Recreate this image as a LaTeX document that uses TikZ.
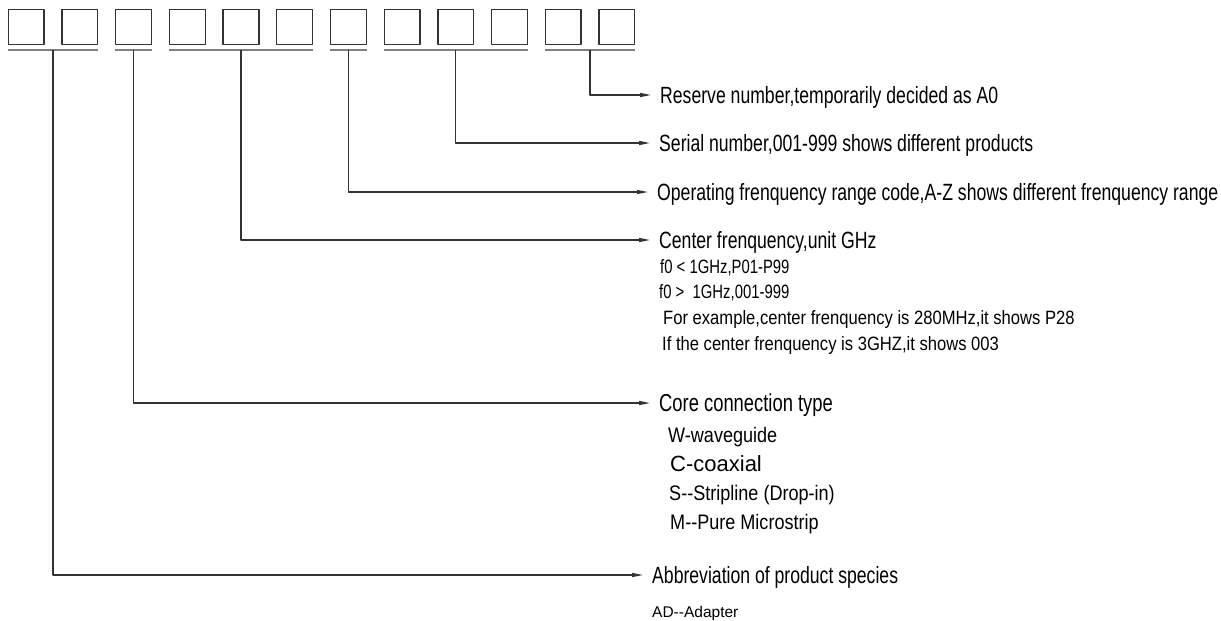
\documentclass[tikz,border=0pt]{standalone}
\usepackage{fontspec}
\setmainfont{Liberation Sans}
\newfontfamily\narrowfont[FakeStretch=0.75]{Liberation Sans}
\newfontfamily\subfont[FakeStretch=0.86]{Liberation Sans}
\newfontfamily\tightfont[FakeStretch=0.77]{Liberation Sans}
\usetikzlibrary{arrows.meta}
\tikzset{
	cell/.style={draw=black!80, line width=1.3pt, minimum width=35.8pt, minimum height=35pt, inner sep=0pt, anchor=north west},
	bar/.style={draw=black!50, line width=2pt},
	lead/.style={draw=black!80, line width=1.1pt, ->, shorten >=9pt},
	mainlbl/.style={anchor=west, inner sep=0pt, text height=16.8pt, text depth=0pt, font=\narrowfont\fontsize{23.5}{28}\selectfont},
	sublbl/.style={anchor=west, inner sep=0pt, text height=13.5pt, text depth=0pt, font=\subfont\fontsize{19.3}{22}\selectfont},
	flbl/.style={sublbl, font=\tightfont\fontsize{19.3}{22}\selectfont},
	corelbl/.style={anchor=west, inner sep=0pt, text height=15pt, text depth=0pt, font=\subfont\fontsize{21}{24}\selectfont}
}
\begin{document}
		\begin{tikzpicture}[x=1pt,y=-1pt,>={Triangle[length=11pt,width=4pt]}, line join=round]
			\def\px{53.7} \def\tx{660} % buoc o, le chu
			\useasboundingbox (0,0) rectangle (1221,621);
			\foreach \i in {1,...,12} \node[cell] (b\i) at ({7.6+\px*(\i-1)},8.6) {};
			\draw[bar] ([yshift=-5pt]b1.south west) -- coordinate[midway] (g1) ([yshift=-5pt]b2.south east);
			\draw[bar] ([yshift=-5pt]b3.south west) -- coordinate[midway] (g2) ([yshift=-5pt]b3.south east);
			\draw[bar] ([yshift=-5pt]b4.south west) -- coordinate[midway] (g3) ([yshift=-5pt]b6.south east);
			\draw[bar] ([yshift=-5pt]b7.south west) -- coordinate[midway] (g4) ([yshift=-5pt]b7.south east);
			\draw[bar] ([yshift=-5pt]b8.south west) -- coordinate[midway] (g5) ([yshift=-5pt]b10.south east);
			\draw[bar] ([yshift=-5pt]b11.south west) -- coordinate[midway] (g6) ([yshift=-5pt]b12.south east);
			\node[mainlbl] (reserve) at (\tx,95) {Reserve number,temporarily decided as A0};
			\node[mainlbl] (serial) at (\tx-1,143) {Serial number,001-999 shows different products};
			\node[mainlbl] (range) at (\tx-3,192) {Operating frenquency range code,A-Z shows different frenquency range};
			\node[mainlbl] (center) at (\tx-1,240) {Center frenquency,unit GHz};
			\node[flbl] (flow) at (\tx,267) {f0 < 1GHz,P01-P99};
			\node[flbl] (fhigh) at (\tx-1,292) {f0 >\ \ 1GHz,001-999};
			\node[sublbl] (fexa) at (\tx+3,318) {For example,center frenquency is 280MHz,it shows P28};
			\node[sublbl] (fif) at (\tx+2,344) {If the center frenquency is 3GHZ,it shows 003};
			\node[mainlbl, text height=17.5pt, font=\narrowfont\fontsize{24.5}{28}\selectfont] (core) at (\tx-1,403) {Core connection type};
			\node[corelbl] (wg) at (\tx+8,435) {W-waveguide};
			\node[corelbl, font=\fontsize{22}{26}\selectfont] (coax) at (\tx+10,464) {C-coaxial};
			\node[corelbl] (strip) at (\tx+9,493) {S-\kern0pt-Stripline (Drop-in)};
			\node[corelbl] (micro) at (\tx+10,522) {M-\kern0pt-Pure Microstrip};
			\node[mainlbl] (species) at (\tx-8,575) {Abbreviation of product species};
			\node[anchor=west, inner sep=0pt, text height=11pt, text depth=0pt, font=\fontsize{15.5}{18}\selectfont] (adapt) at (\tx-8,612) {AD-\kern0pt-Adapter};
			\draw[lead] (g6) |- (reserve.west);
			\draw[lead] (g5) |- (serial.west);
			\draw[lead] (g4) |- (range.west);
			\draw[lead] (g3) |- (center.west);
			\draw[lead] (g2) |- (core.west);
			\draw[lead] (g1) |- (species.west);
		\end{tikzpicture}
\end{document}
